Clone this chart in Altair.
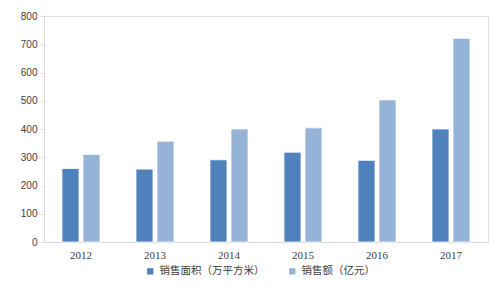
import altair as alt
import pandas as pd

years = ["2012", "2013", "2014", "2015", "2016", "2017"]
series = ["销售面积（万平方米）", "销售额（亿元）"]
area = [260, 258, 291, 318, 289, 400]
sales = [310, 357, 400, 404, 503, 721]
colors = ["#4F81BD", "#95B3D7"]

rows = []
for i, y in enumerate(years):
    rows.append({"year": y, "series": series[0], "value": area[i]})
    rows.append({"year": y, "series": series[1], "value": sales[i]})
df = pd.DataFrame(rows)

chart = alt.Chart(df).mark_bar(stroke="white", strokeWidth=0.8).encode(
    x=alt.X("year:N", sort=years, title=None,
            scale=alt.Scale(paddingInner=0.486, paddingOuter=0.243),
            axis=alt.Axis(labelAngle=0, labelFont="Liberation Serif", labelFontSize=11,
                          labelColor="#404040", domainColor="#D9D9D9", ticks=False,
                          labelPadding=7)),
    xOffset=alt.XOffset("series:N", sort=series,
                        scale=alt.Scale(paddingInner=0.19, paddingOuter=0)),
    y=alt.Y("value:Q", title=None,
            scale=alt.Scale(domain=[0, 800]),
            axis=alt.Axis(values=[0, 100, 200, 300, 400, 500, 600, 700, 800], grid=False,
                          labelFont="Liberation Sans", labelFontSize=10, labelColor="#404040",
                          domainColor="#D9D9D9", tickColor="#D9D9D9", tickSize=3,
                          labelPadding=4)),
    color=alt.Color("series:N", sort=series,
                    scale=alt.Scale(domain=series, range=colors),
                    legend=alt.Legend(orient="none", legendX=101, legendY=250,
                                      direction="horizontal", title=None,
                                      symbolType="square", symbolSize=40, symbolStrokeWidth=0,
                                      labelFont="Noto Sans CJK SC", labelFontSize=10.5,
                                      labelColor="#404040", columnPadding=22,
                                      labelLimit=200)),
).properties(
    width=444, height=226,
    autosize=alt.AutoSizeParams(type="none"),
    padding={"left": 44, "top": 16, "right": 12, "bottom": 57},
).configure_view(stroke=None).configure(background="white")

chart.save("out.html", embed_options={"renderer": "svg", "actions": False})
